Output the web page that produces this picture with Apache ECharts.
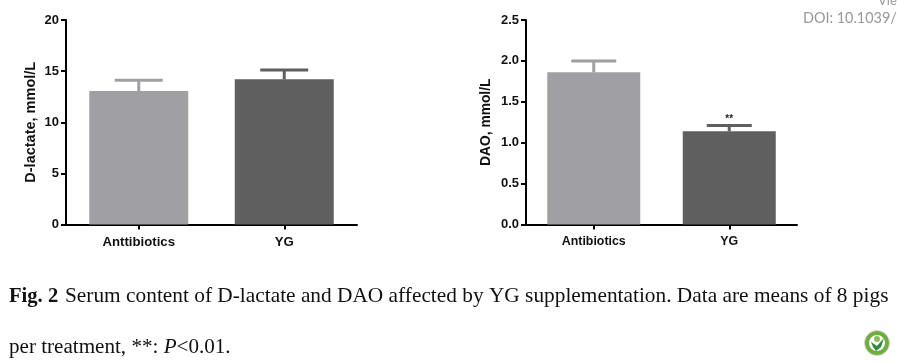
<!DOCTYPE html>
<html><head><meta charset="utf-8">
<style>html,body{margin:0;padding:0;background:#fff}#c{width:897px;height:363px}</style>
<script src="https://cdn.jsdelivr.net/npm/echarts@6/dist/echarts.min.js"></script>
</head><body><div id="c"></div>
<script>
const catsLeft = ['Anttibiotics', 'YG'];
const catsRight = ['Antibiotics', 'YG'];
const lactateMean = [13.05, 14.2];
const lactateUpper = [14.1, 15.1];
const daoMean = [1.86, 1.14];
const daoUpper = [2.0, 1.21];
const barColors = ['#a09fa3', '#5f5f5f'];
const errColors = ['#a09fa3', '#5f5f5f'];
const yTitleLeft = 'D-lactate, mmol/L';
const yTitleRight = 'DAO, mmol/L';
const sigMark = ['', '**'];

const chart = echarts.init(document.getElementById('c'), null, {renderer: 'canvas'});
const font = '"Liberation Sans", Arial, sans-serif';
const serif = '"Liberation Serif", "Times New Roman", serif';

function xAxis(idx, cats, size) {
  return {type: 'category', gridIndex: idx, data: cats,
    axisLine: {show: true, onZero: false, lineStyle: {color: '#000', width: 2}},
    axisTick: {show: true, alignWithLabel: true, length: 5, lineStyle: {color: '#000', width: 2}},
    axisLabel: {color: '#111', fontFamily: font, fontWeight: 'bold', fontSize: size, margin: 11, interval: 0}};
}
function yAxis(idx, max, interval, name, fmt, gap, nameSize) {
  return {type: 'value', gridIndex: idx, min: 0, max, interval, name,
    nameLocation: 'middle', nameGap: gap, nameRotate: 90,
    nameTextStyle: {color: '#111', fontFamily: font, fontWeight: 'bold', fontSize: nameSize},
    splitLine: {show: false},
    axisLine: {show: true, lineStyle: {color: '#000', width: 2}},
    axisTick: {show: true, length: 5, lineStyle: {color: '#000', width: 2}},
    axisLabel: {color: '#111', fontFamily: font, fontWeight: 'bold', fontSize: 13, margin: 7, formatter: fmt}};
}
function bars(idx, vals, w) {
  return {type: 'bar', xAxisIndex: idx, yAxisIndex: idx, barWidth: w, silent: true,
    data: vals.map((v, i) => ({value: v, itemStyle: {color: barColors[i]}}))};
}
function errs(idx, means, uppers, capW, marks) {
  return {type: 'custom', xAxisIndex: idx, yAxisIndex: idx, silent: true, z: 1,
    data: means.map((m, i) => [i, m, uppers[i]]),
    encode: {x: 0, y: [1, 2]},
    renderItem(params, api) {
      const i = api.value(0);
      const a = api.coord([i, api.value(1)]);
      const b = api.coord([i, api.value(2)]);
      const col = errColors[i];
      const kids = [
        {type: 'line', shape: {x1: a[0], y1: a[1], x2: b[0], y2: b[1]}, style: {stroke: col, lineWidth: 3}},
        {type: 'line', shape: {x1: a[0] - capW / 2, y1: b[1], x2: a[0] + capW / 2, y2: b[1]}, style: {stroke: col, lineWidth: 3}}
      ];
      if (marks && marks[i]) {
        kids.push({type: 'text', style: {text: marks[i], x: a[0], y: b[1] - 1, align: 'center', verticalAlign: 'bottom',
          fill: '#222', font: 'bold 10px ' + font}});
      }
      return {type: 'group', children: kids};
    }};
}

chart.setOption({
  animation: false,
  backgroundColor: '#fff',
  grid: [
    {left: 66, top: 20, width: 291, height: 204.5},
    {left: 526, top: 20, width: 271, height: 204.5}
  ],
  xAxis: [xAxis(0, catsLeft, 13.2), xAxis(1, catsRight, 12.4)],
  yAxis: [
    yAxis(0, 20, 5, yTitleLeft, v => String(v), 28, 14.5),
    yAxis(1, 2.5, 0.5, yTitleRight, v => v.toFixed(1), 33, 13.8)
  ],
  series: [
    errs(0, lactateMean, lactateUpper, 48),
    bars(0, lactateMean, 99),
    errs(1, daoMean, daoUpper, 45, sigMark),
    bars(1, daoMean, 93)
  ],
  graphic: [
    {type: 'text', left: 878, top: -6, style: {text: 'Vie', fill: '#999', font: '13px Lato, sans-serif'}},
    {type: 'text', left: 803, top: 11, style: {text: 'DOI: 10.1039/', fill: '#999', font: '14.4px Lato, sans-serif'}},
    {type: 'text', left: 9, top: 286, style: {
      text: 'Fig. 2', fill: '#111', font: 'bold 20.6px ' + serif
    }},
    {type: 'text', left: 65, top: 286, style: {
      text: 'Serum content of D-lactate and DAO affected by YG supplementation. Data are means of 8 pigs',
      fill: '#111', font: '21.35px ' + serif
    }},
    {type: 'text', left: 9, top: 337, style: {
      rich: {
        i: {fontFamily: serif, fontStyle: 'italic', fontSize: 21.1},
        n: {fontFamily: serif, fontSize: 21.1}
      },
      text: '{n|per treatment, **: }{i|P}{n|<0.01.}',
      fill: '#111'
    }},
    {type: 'circle', shape: {cx: 877, cy: 343, r: 12.5}, style: {fill: '#fff', stroke: '#cfcfcf', lineWidth: 1}},
    {type: 'circle', shape: {cx: 877, cy: 343, r: 10}, style: {fill: '#fff', stroke: '#6fae3b', lineWidth: 4}},
    {type: 'circle', shape: {cx: 877, cy: 339, r: 3}, style: {fill: '#8cc152'}},
    {type: 'polygon', shape: {points: [[871, 342], [877, 346], [884, 338], [881, 347], [876, 351], [873, 347]]}, style: {fill: '#2e8b3d'}}
  ]
});
</script></body></html>
